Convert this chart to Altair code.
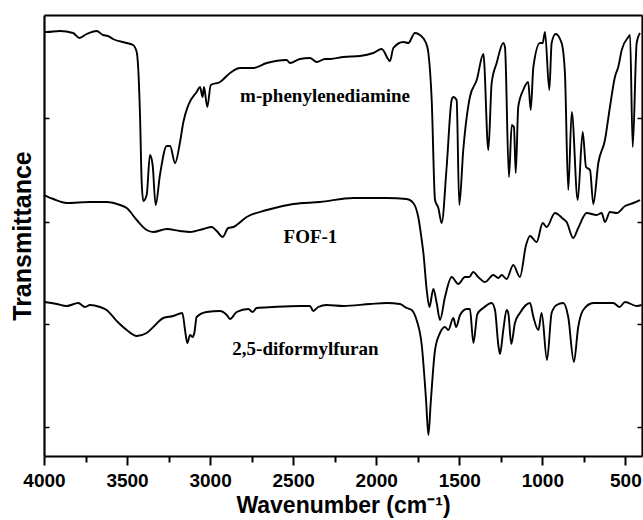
import altair as alt
import pandas as pd

# m-phenylenediamine
mpd_wn = [4000, 3984, 3904, 3825, 3787, 3743, 3683, 3645, 3615, 3585, 3502, 3464, 3442, 3434, 3422, 3412,
          3402, 3382, 3362, 3346, 3328, 3302, 3261, 3241, 3211, 3181, 3161, 3131, 3081, 3061, 3045, 3037,
          3017, 2996, 2940, 2880, 2820, 2742, 2659, 2539, 2519, 2459, 2399, 2358, 2308, 2278, 2198, 2098,
          2018, 1967, 1917, 1897, 1837, 1807, 1767, 1737, 1700, 1686, 1666, 1646, 1626, 1606, 1576, 1546,
          1536, 1516, 1500, 1476, 1436, 1395, 1355, 1325, 1305, 1275, 1235, 1225, 1201, 1184, 1171, 1160,
          1145, 1115, 1085, 1070, 1054, 1014, 998, 984, 958, 944, 920, 884, 864, 844, 823, 787, 757, 737,
          713, 693, 663, 623, 593, 563, 543, 522, 482, 472, 456, 432, 412]
mpd_t = [423, 423, 424, 422, 417, 421, 424, 420, 419, 416, 412, 410, 403, 390, 340, 273,
         254, 260, 300, 290, 250, 280, 309, 309, 292, 313, 333, 350, 363, 368, 358, 368,
         348, 370, 373, 382, 387, 387, 392, 395, 392, 396, 397, 393, 396, 396, 398, 399,
         402, 406, 394, 407, 413, 412, 422, 420, 412, 402, 355, 255, 247, 232, 288, 355,
         358, 355, 250, 305, 358, 375, 401, 305, 372, 392, 412, 408, 278, 330, 328, 282,
         348, 365, 373, 345, 388, 412, 412, 423, 365, 412, 421, 412, 382, 265, 343, 255, 323, 288,
         285, 251, 292, 315, 348, 378, 388, 405, 418, 420, 308, 412, 422]

# FOF-1
fof_wn = [4000, 3944, 3863, 3723, 3623, 3542, 3502, 3442, 3382, 3342, 3261, 3181, 3121, 3041, 2990, 2960,
          2924, 2891, 2860, 2780, 2659, 2499, 2338, 2138, 1937, 1817, 1777, 1747, 1726, 1716, 1696, 1680,
          1656, 1636, 1616, 1586, 1546, 1506, 1466, 1440, 1416, 1386, 1345, 1295, 1265, 1245, 1215, 1175,
          1135, 1098, 1074, 1034, 998, 974, 924, 874, 854, 814, 784, 733, 673, 643, 623, 593, 552, 502,
          452, 412]
fof_t = [260, 256, 252, 253, 253, 250, 247, 235, 225, 223, 226, 224, 223, 226, 228, 224,
         218, 227, 228, 238, 245, 251, 253, 257, 257, 256, 252, 238, 215, 202, 165, 148,
         166, 152, 135, 158, 178, 171, 178, 178, 183, 178, 173, 180, 177, 180, 176, 190,
         178, 210, 219, 213, 232, 228, 242, 236, 233, 217, 227, 242, 240, 242, 233, 243, 242, 249,
         252, 255]

# 2,5-diformylfuran
dff_wn = [4000, 3924, 3863, 3794, 3753, 3723, 3663, 3623, 3562, 3502, 3442, 3382, 3342, 3282, 3222, 3167,
          3151, 3137, 3121, 3105, 3095, 3081, 3021, 2940, 2900, 2880, 2840, 2770, 2744, 2720, 2620, 2459,
          2399, 2379, 2349, 2298, 2198, 2037, 1937, 1857, 1817, 1787, 1757, 1726, 1700, 1686, 1672, 1646,
          1616, 1586, 1566, 1536, 1519, 1495, 1455, 1436, 1415, 1391, 1356, 1305, 1285, 1265, 1255, 1235,
          1215, 1205, 1187, 1165, 1135, 1074, 1054, 1024, 1004, 972, 944, 914, 874, 844, 810, 784, 754,
          693, 573, 535, 502, 432, 402]
dff_t = [153, 151, 149, 152, 148, 150, 148, 145, 134, 125, 119, 122, 128, 137, 139, 142,
         125, 112, 120, 118, 122, 138, 143, 144, 140, 136, 143, 146, 143, 147, 148, 149,
         149, 144, 148, 150, 149, 151, 152, 151, 147, 145, 135, 110, 55, 20, 52, 105,
         122, 128, 125, 137, 128, 140, 146, 146, 112, 141, 147, 152, 145, 110, 101, 125,
         145, 142, 111, 132, 142, 152, 138, 125, 142, 95, 142, 150, 152, 138, 93, 128, 145,
         152, 152, 148, 153, 149, 150]

major_ticks = [4000, 3500, 3000, 2500, 2000, 1500, 1000, 500]
minor_ticks = [3750, 3250, 2750, 2250, 1750, 1250, 750]
y_ticks = [28, 131, 233, 337]

label_text = ["m-phenylenediamine", "FOF-1", "2,5-diformylfuran"]
label_wn = [2308, 2396, 2426]
label_t = [359, 218, 106]

rows = []
for name, wns, ts in [("m-phenylenediamine", mpd_wn, mpd_t), ("FOF-1", fof_wn, fof_t),
                      ("2,5-diformylfuran", dff_wn, dff_t)]:
    for w, t in zip(wns, ts):
        rows.append({"series": name, "wn": w, "t": t})
df = pd.DataFrame(rows)
labels_df = pd.DataFrame({"label": label_text, "wn": label_wn, "t": label_t})

W, H = 598, 441
xscale = alt.Scale(domain=[4000, 400], nice=False, zero=False)
yscale = alt.Scale(domain=[-1, 440], nice=False, zero=False)
SANS = "Liberation Sans"

lines = alt.Chart(df).mark_line(color="black", strokeWidth=1.9, interpolate="monotone").encode(
    x=alt.X("wn:Q", scale=xscale, axis=alt.Axis(
        orient="bottom", values=major_ticks, format="d", grid=False,
        domain=True, domainColor="black", domainWidth=2.2,
        ticks=True, tickSize=9, tickWidth=2, tickColor="black",
        labelFont=SANS, labelFontSize=19, labelFontWeight="bold", labelColor="black",
        labelPadding=6, labelFlush=False, labelOverlap=False,
        title="Wavenumber (cm\u207b\u00b9)", titleFont=SANS, titleFontSize=23,
        titleFontWeight="bold", titleColor="black", titlePadding=4)),
    y=alt.Y("t:Q", scale=yscale, axis=alt.Axis(
        orient="left", ticks=False, labels=False, grid=False,
        domain=True, domainColor="black", domainWidth=2.2,
        title="Transmittance", titleFont=SANS, titleFontSize=25, titleFontWeight="bold",
        titleColor="black", titlePadding=9)),
    detail="series:N",
    order=alt.Order("wn:Q", sort="descending"),
)

minor = alt.Chart(df).mark_line(strokeOpacity=0).encode(
    x=alt.X("wn:Q", axis=alt.Axis(
        orient="bottom", values=minor_ticks, labels=False, grid=False, domain=False,
        ticks=True, tickSize=6, tickWidth=2, tickColor="black", title=None)),
    y=alt.Y("t:Q", axis=alt.Axis(
        orient="right", offset=-W, values=y_ticks, labels=False, grid=False, domain=False,
        tickSize=5, tickWidth=1.5, tickColor="black", title=None)),
    detail="series:N",
)

frame = alt.Chart(df).mark_line(strokeOpacity=0).encode(
    x=alt.X("wn:Q", axis=alt.Axis(
        orient="top", labels=False, grid=False, ticks=False,
        domain=True, domainColor="black", domainWidth=2.2, title=None)),
    y=alt.Y("t:Q", axis=alt.Axis(
        orient="left", offset=-W, values=y_ticks, labels=False, grid=False,
        domain=True, domainColor="black", domainWidth=2.2,
        tickSize=5, tickWidth=1.5, tickColor="black", title=None)),
    detail="series:N",
)

texts = alt.Chart(labels_df).mark_text(
    font="Liberation Serif", fontWeight="bold", fontSize=19, color="black", baseline="middle"
).encode(
    x=alt.X("wn:Q", axis=None),
    y=alt.Y("t:Q", axis=None),
    text="label:N",
)

chart = alt.layer(lines, minor, frame, texts).resolve_axis(
    x="independent", y="independent"
).properties(
    width=W, height=H,
    autosize=alt.AutoSizeParams(type="none"),
    padding={"left": 44, "top": 15, "right": 1, "bottom": 64},
    background="white",
).configure_view(stroke="transparent")

chart.save("out.html", embed_options={"renderer": "svg", "actions": False})
